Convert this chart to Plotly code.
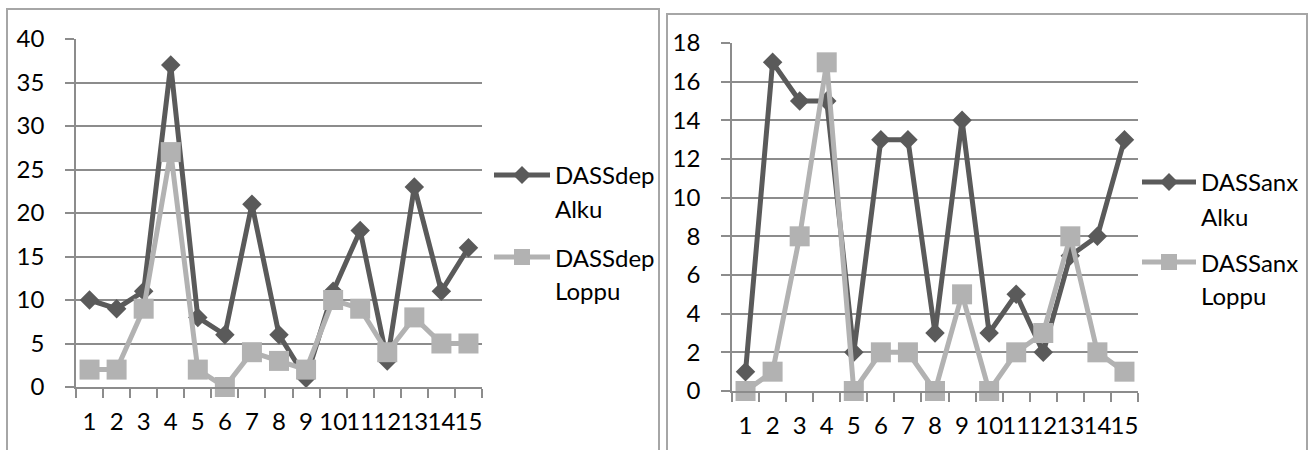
import plotly.graph_objects as go

W, H = 1312, 450

categories = [str(i) for i in range(1, 16)]

dep_alku = [10, 9, 11, 37, 8, 6, 21, 6, 1, 11, 18, 3, 23, 11, 16]
dep_loppu = [2, 2, 9, 27, 2, 0, 4, 3, 2, 10, 9, 4, 8, 5, 5]

anx_alku = [1, 17, 15, 15, 2, 13, 13, 3, 14, 3, 5, 2, 7, 8, 13]
anx_loppu = [0, 1, 8, 17, 0, 2, 2, 0, 5, 0, 2, 3, 8, 2, 1]

dep_names = ["DASSdep Alku", "DASSdep Loppu"]
anx_names = ["DASSanx Alku", "DASSanx Loppu"]

DARK = "#5a5a5a"
LIGHT = "#b2b2b2"
GRID = "#8c8c8c"
FRAME = "#a6a6a6"
FONT = "Lato, Carlito, sans-serif"
FS = 24


def fx(x):
    return x / W


def fy(y):
    return 1 - y / H


fig = go.Figure()


def add_pair(alku, loppu, names, xa, ya):
    fig.add_trace(go.Scatter(
        x=categories, y=alku, name=names[0], mode="lines+markers",
        line=dict(color=DARK, width=5),
        marker=dict(symbol="diamond", size=15, color=DARK),
        xaxis=xa, yaxis=ya, cliponaxis=False, showlegend=False))
    fig.add_trace(go.Scatter(
        x=categories, y=loppu, name=names[1], mode="lines+markers",
        line=dict(color=LIGHT, width=5),
        marker=dict(symbol="square", size=20, color=LIGHT),
        xaxis=xa, yaxis=ya, cliponaxis=False, showlegend=False))


add_pair(dep_alku, dep_loppu, dep_names, "x", "y")
add_pair(anx_alku, anx_loppu, anx_names, "x2", "y2")

xcommon = dict(type="category", range=[-0.5, 14.5], showline=True,
               linecolor=GRID, linewidth=1.5, ticks="outside",
               tickson="boundaries", ticklen=9, tickcolor=GRID,
               tickwidth=1.5, showgrid=False, zeroline=False,
               tickmode="linear", tick0=0, dtick=1, automargin=False,
               tickangle=0, ticklabelstandoff=12,
               tickfont=dict(family=FONT, size=FS, color="#000"))
ycommon = dict(showline=True, linecolor=GRID, linewidth=1.5,
               ticks="outside", ticklen=9, tickcolor=GRID, tickwidth=1.5,
               showgrid=True, gridcolor=GRID, gridwidth=1.5,
               zeroline=False, ticklabelstandoff=16, automargin=False,
               tickfont=dict(family=FONT, size=FS, color="#000"))

fig.update_layout(
    width=W, height=H,
    margin=dict(l=0, r=0, t=0, b=0, pad=0),
    paper_bgcolor="white", plot_bgcolor="white",
    showlegend=False,
    xaxis=dict(domain=[fx(76), fx(482)], anchor="y", **xcommon),
    yaxis=dict(domain=[fy(387), fy(39)], anchor="x", range=[0, 40],
               dtick=5, **ycommon),
    xaxis2=dict(domain=[fx(732), fx(1138)], anchor="y2", **xcommon),
    yaxis2=dict(domain=[fy(391), fy(43)], anchor="x2", range=[0, 18],
                dtick=2, **ycommon),
)

shapes = []
annotations = []

# chart frames
for x0, x1, y0 in [(7, 659, 9), (667, 1307, 14)]:
    shapes.append(dict(type="rect", xref="paper", yref="paper",
                       x0=fx(x0), x1=fx(x1), y0=fy(y0), y1=fy(470),
                       line=dict(color=FRAME, width=2), layer="below"))


def legend_entry(x0, x1, y, color, symbol, lines, ys):
    shapes.append(dict(type="line", xref="paper", yref="paper",
                       x0=fx(x0), x1=fx(x1), y0=fy(y), y1=fy(y),
                       line=dict(color=color, width=5)))
    cx = (x0 + x1) / 2
    if symbol == "diamond":
        r = 9
        path = (f"M {fx(cx - r)} {fy(y)} L {fx(cx)} {fy(y - r)} "
                f"L {fx(cx + r)} {fy(y)} L {fx(cx)} {fy(y + r)} Z")
    else:
        r = 8
        path = (f"M {fx(cx - r)} {fy(y - r)} L {fx(cx + r)} {fy(y - r)} "
                f"L {fx(cx + r)} {fy(y + r)} L {fx(cx - r)} {fy(y + r)} Z")
    shapes.append(dict(type="path", xref="paper", yref="paper", path=path,
                       fillcolor=color, line=dict(color=color, width=0)))
    for txt, ty in zip(lines, ys):
        annotations.append(dict(text=txt, xref="paper", yref="paper",
                                x=fx(x1 + 3), y=fy(ty), xanchor="left",
                                yanchor="middle", showarrow=False,
                                font=dict(family=FONT, size=FS, color="#000")))


legend_entry(494, 550, 175, DARK, "diamond", dep_names[0].split(" "), [175, 208])
legend_entry(494, 550, 257, LIGHT, "square", dep_names[1].split(" "), [257, 290])
legend_entry(1142, 1196, 182, DARK, "diamond", anx_names[0].split(" "), [182, 216])
legend_entry(1142, 1196, 262, LIGHT, "square", anx_names[1].split(" "), [262, 295])

fig.update_layout(shapes=shapes, annotations=annotations)

fig.write_html("out.html")
